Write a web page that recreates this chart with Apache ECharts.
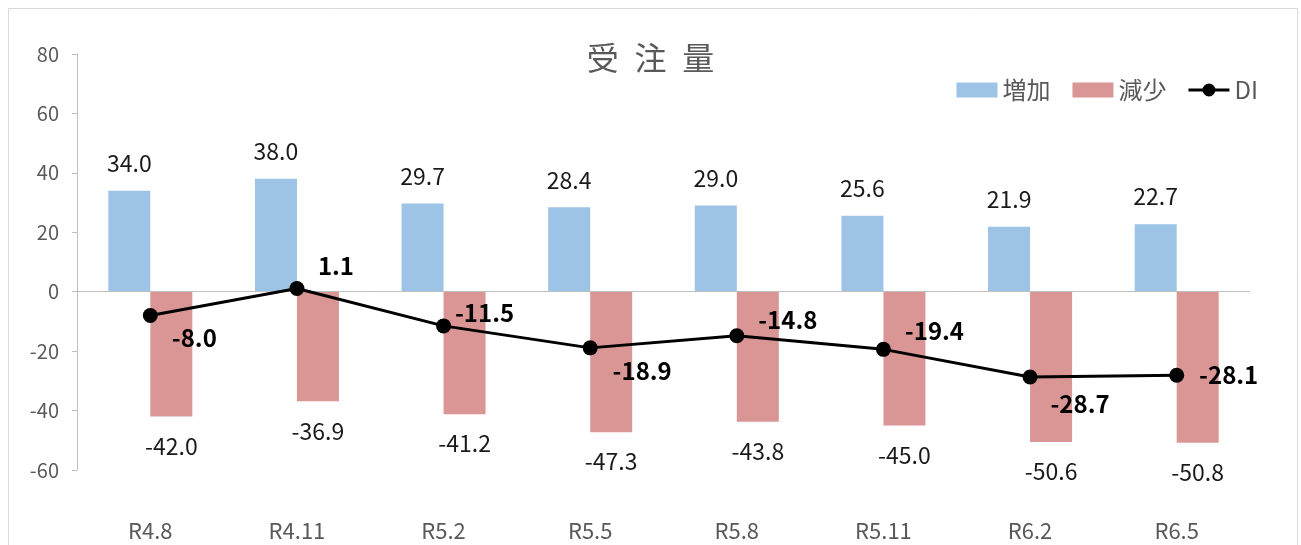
<!DOCTYPE html>
<html>
<head>
<meta charset="utf-8">
<script src="https://cdn.jsdelivr.net/npm/echarts@6/dist/echarts.min.js"></script>
<style>
html,body{margin:0;padding:0;background:#fff;}
#main{width:1301px;height:545px;}
</style>
</head>
<body>
<div id="main"></div>
<script>
// ---- data ----
var categories = ['R4.8','R4.11','R5.2','R5.5','R5.8','R5.11','R6.2','R6.5'];
var increase = [34.0, 38.0, 29.7, 28.4, 29.0, 25.6, 21.9, 22.7];
var decrease = [-42.0, -36.9, -41.2, -47.3, -43.8, -45.0, -50.6, -50.8];
var di = [-8.0, 1.1, -11.5, -18.9, -14.8, -19.4, -28.7, -28.1];
var yMin = -60, yMax = 80, yStep = 20;

// label placement for DI values (style only)
var diLabelOffsets = [[44,22],[39,-23],[41,-13],[52,23],[51,-16],[51,-18],[50,27],[52,0]];

var FONT = '"Noto Sans CJK JP", "Noto Sans", sans-serif';
var chart = echarts.init(document.getElementById('main'));

var diData = di.map(function(v, i){
  return {value: v, label: {offset: diLabelOffsets[i]}};
});

var diIcon = 'path://M0,6h41v3h-41z M14,7.5a6.5,6.5 0 1,1 13,0a6.5,6.5 0 1,1 -13,0z';

chart.setOption({
  animation: false,
  textStyle: {fontFamily: FONT},
  graphic: [{
    type: 'rect',
    shape: {x: 8.5, y: 8.5, width: 1289, height: 600},
    style: {fill: 'none', stroke: '#d9d9d9', lineWidth: 1},
    silent: true
  }],
  title: {
    text: '{a|受}{s| }{a|注}{s| }{a|量}',
    left: 'center',
    top: 38,
    padding: 0,
    textStyle: {
      fontWeight: 'normal',
      lineHeight: 40,
      rich: {
        a: {fontSize: 32, lineHeight: 40, color: '#595959', fontFamily: FONT, fontWeight: 'normal'},
        s: {fontSize: 70, lineHeight: 40, color: '#595959', fontFamily: FONT, fontWeight: 'normal'}
      }
    }
  },
  legend: {
    right: 38,
    top: 73,
    itemWidth: 41,
    itemHeight: 15,
    itemGap: 22,
    textStyle: {fontSize: 24, color: '#595959', fontFamily: FONT},
    data: [
      {name: '増加', icon: 'rect'},
      {name: '減少', icon: 'rect'},
      {name: 'DI', icon: diIcon, itemStyle: {color: '#000'}}
    ]
  },
  grid: {left: 77, right: 51, top: 54, bottom: 75, containLabel: false},
  xAxis: {
    type: 'category',
    data: categories,
    axisLine: {show: false, onZero: false},
    axisTick: {show: false},
    axisLabel: {margin: 50, fontSize: 22, color: '#595959', fontFamily: FONT}
  },
  yAxis: {
    type: 'value',
    min: yMin, max: yMax, interval: yStep,
    axisLine: {show: true, lineStyle: {color: '#bfbfbf'}},
    axisTick: {show: true, length: 5, lineStyle: {color: '#bfbfbf'}},
    splitLine: {show: false},
    axisLabel: {margin: 18, fontSize: 20, color: '#595959', fontFamily: FONT}
  },
  series: [
    {
      name: '増加', type: 'bar', data: increase,
      barWidth: 42, barGap: '0%',
      itemStyle: {color: '#9dc3e6'},
      label: {show: true, position: 'top', distance: 16, fontSize: 23, color: '#1a1a1a',
        fontFamily: FONT, formatter: function(p){return p.value.toFixed(1);}},
      markLine: {
        silent: true, symbol: 'none', label: {show: false},
        lineStyle: {color: '#bfbfbf', width: 1, type: 'solid'},
        data: [{yAxis: 0}]
      }
    },
    {
      name: '減少', type: 'bar', data: decrease,
      barWidth: 42, barGap: '0%',
      itemStyle: {color: '#d99694'},
      label: {show: true, position: 'bottom', distance: 18, fontSize: 23, color: '#1a1a1a',
        fontFamily: FONT, formatter: function(p){return p.value.toFixed(1);}}
    },
    {
      name: 'DI', type: 'line', data: diData,
      symbol: 'circle', symbolSize: 15,
      lineStyle: {color: '#000', width: 3},
      itemStyle: {color: '#000'},
      z: 5,
      label: {show: true, position: 'inside', fontSize: 24, fontWeight: 'bold', color: '#000',
        fontFamily: FONT, formatter: function(p){return p.value.toFixed(1);}}
    }
  ]
});
</script>
</body>
</html>
